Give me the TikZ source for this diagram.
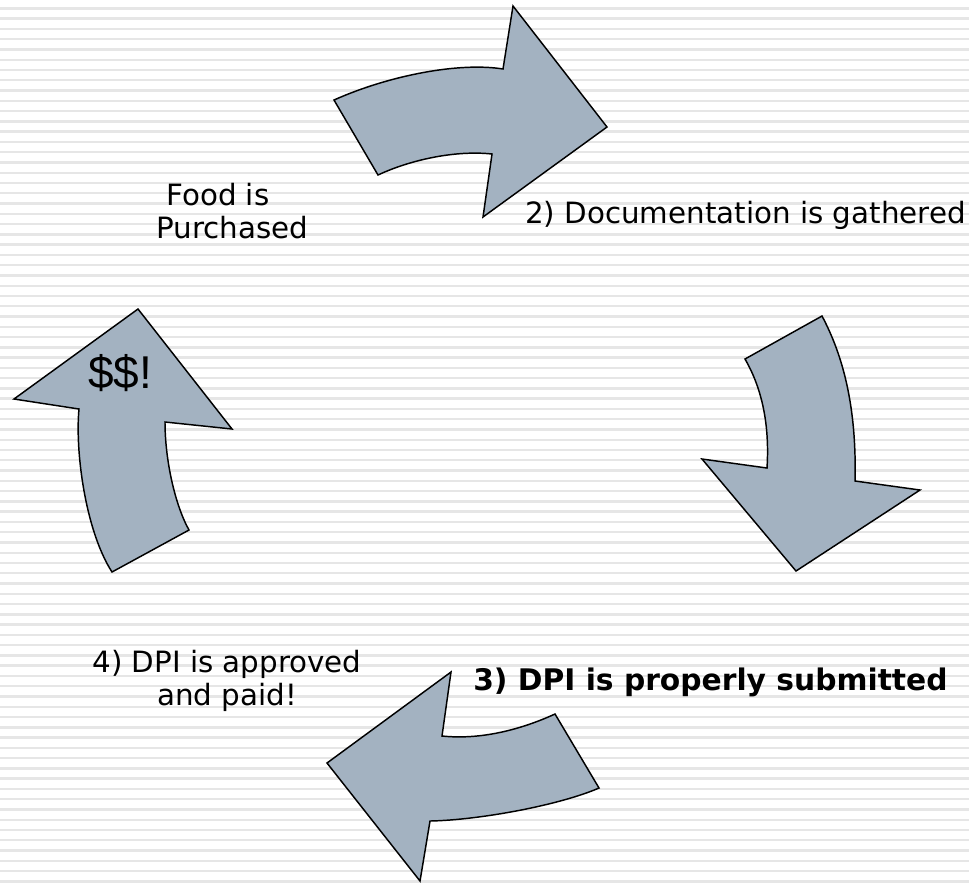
\documentclass[tikz,border=0pt]{standalone}
\usepackage{fontspec}
\setmainfont{DejaVu Sans}
\newfontfamily\arialfont{Liberation Sans}
\definecolor{arrowfill}{RGB}{163,178,193}
\definecolor{stripecol}{RGB}{230,230,230}
\begin{document}
\begin{tikzpicture}[x=0.75pt,y=-0.75pt,
  cyclearrow/.style={draw=black,line width=1.1pt,fill=arrowfill,line join=miter},
  txt/.style={inner sep=0pt,font=\fontsize{22pt}{24.5pt}\selectfont,text=black}]
\useasboundingbox (0,0) rectangle (969,883);
\fill[white] (0,0) rectangle (969,883);
\foreach \k in {0,...,85} \fill[stripecol] (0,{7.2+10.27*\k}) rectangle (969,{9.6+10.27*\k});

% arrow 1 (top, pointing right)
\draw[cyclearrow] (334,100) .. controls (390,75) and (460,62) .. (503,69)
  -- (513,6) -- (607,127) -- (483,217) -- (492,154)
  .. controls (455,150) and (410,160) .. (378,175) -- cycle;
% arrow 2 (right, pointing down)
\draw[cyclearrow] (745,359) -- (822,316) .. controls (840,350) and (857,400) .. (855,481)
  -- (920,490) -- (796,571) -- (702,459) -- (767,468)
  .. controls (770,420) and (760,385) .. (745,359) -- cycle;
% arrow 3 (bottom, pointing left)
\draw[cyclearrow] (555,714) -- (599,788) .. controls (560,805) and (480,820) .. (430,821)
  -- (420,881) -- (327,763) -- (451,672) -- (442,736)
  .. controls (480,740) and (520,730) .. (555,714) -- cycle;
% arrow 4 (left, pointing up)
\draw[cyclearrow] (112,572) .. controls (85,530) and (75,450) .. (79,409)
  -- (14,399) -- (138,309) -- (232,429) -- (165,422)
  .. controls (165,460) and (175,505) .. (189,530) -- cycle;

\node[txt,anchor=base west,align=left] (food) at (156,238) {\hspace*{7.5pt}Food is\\Purchased};
\node[txt,anchor=base west] (doc) at (525,223) {2) Documentation is gathered};
\node[txt,anchor=base west,font=\fontsize{22.3pt}{24.5pt}\selectfont\bfseries] (submit) at (473,690) {3) DPI is properly submitted};
\node[txt,anchor=base,align=center] (paid) at (227,705) {4) DPI is approved\\and paid!};
\node[inner sep=0pt,anchor=base west,font=\arialfont\fontsize{34.5pt}{36pt}\selectfont] (money) at (88,388) {\$\$!};
\end{tikzpicture}
\end{document}
